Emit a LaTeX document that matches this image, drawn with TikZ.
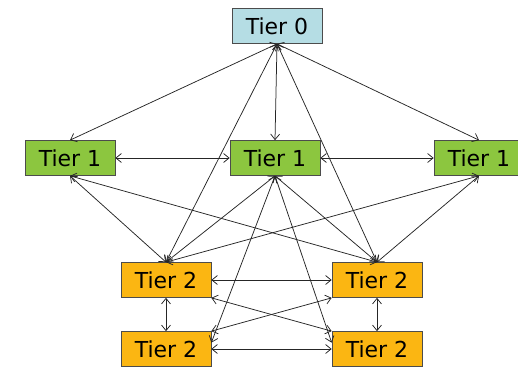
\documentclass[tikz,border=0pt]{standalone}
\usepackage{fontspec}
\usepackage{tikz}
\usetikzlibrary{arrows.meta}
\newfontfamily\tierfont{DejaVu Sans}
\definecolor{T0}{HTML}{B5DDE4}
\definecolor{T1}{HTML}{8CC63F}
\definecolor{T2}{HTML}{FBB612}

\begin{document}
\begin{tikzpicture}[x=1pt, y=-1pt,
    tier/.style={shape=rectangle, draw=black!70, line width=0.7pt, minimum width=90pt,
      minimum height=35pt, inner sep=0pt, font=\tierfont\fontsize{22}{26}\selectfont},
    link/.style={<->, >={Straight Barb[length=5.5pt, width=9pt]}, line width=0.75pt, black!85}]
    \useasboundingbox (0, 0) rectangle (518, 366);

    \node at (277, 26) (T0) [tier, fill=T0] {Tier 0};
    \node at (70, 158) (T1l) [tier, fill=T1] {Tier 1};
    \node at (275, 158) (T1m) [tier, fill=T1] {Tier 1};
    \node at (479, 158) (T1r) [tier, fill=T1] {Tier 1};
    \node at (166, 280) (T2a) [tier, fill=T2] {Tier 2};
    \node at (377, 280) (T2b) [tier, fill=T2] {Tier 2};
    \node at (166, 349) (T2c) [tier, fill=T2] {Tier 2};
    \node at (377, 349) (T2d) [tier, fill=T2] {Tier 2};

    % tier 0 to the rest
    \draw[link] (T0.south) -- (T1l.north);
    \draw[link] (T0.south) -- (T1m.north);
    \draw[link] (T0.south) -- (T1r.north);
    \draw[link] (T0.south) -- (T2a.north);
    \draw[link] (T0.south) -- (T2b.north);

    % tier 1
    \draw[link] (T1l.east) -- (T1m.west);
    \draw[link] (T1m.east) -- (T1r.west);
    \draw[link] (T1l.south) -- (T2a.north);
    \draw[link] (T1l.south) -- (T2b.north);
    \draw[link] (T1r.south) -- (T2a.north);
    \draw[link] (T1r.south) -- (T2b.north);
    \draw[link] (T1m.south) -- (T2a.north);
    \draw[link] (T1m.south) -- (T2b.north);
    \draw[link] (T1m.south) -- (T2c.8);
    \draw[link] (T1m.south) -- (T2d.172);

    % tier 2
    \draw[link] (T2a.east) -- (T2b.west);
    \draw[link] (T2c.east) -- (T2d.west);
    \draw[link] (T2a.south) -- (T2c.north);
    \draw[link] (T2b.south) -- (T2d.north);
    \draw[link] (T2a.south east) -- (T2d.north west);
    \draw[link] (T2b.south west) -- (T2c.north east);
  \end{tikzpicture}
\end{document}
